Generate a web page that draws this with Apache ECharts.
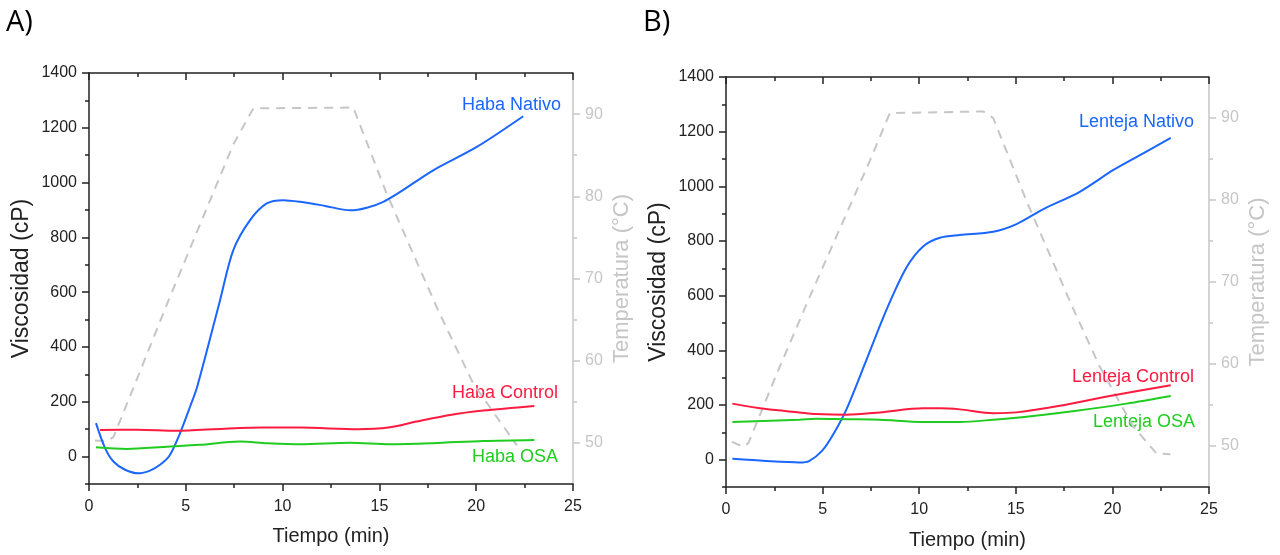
<!DOCTYPE html>
<html><head><meta charset="utf-8">
<script src="https://cdn.jsdelivr.net/npm/echarts@6/dist/echarts.min.js"></script>
<style>html,body{margin:0;padding:0;background:#fff}#c{width:1280px;height:555px}</style>
</head><body><div id="c"></div>
<script>
// ---- Data (time in min, viscosity in cP, temperature in °C) ----
const habaNativo = [[0.36,122],[0.83,31],[1.26,-18],[1.86,-48],[2.55,-61],[3.15,-51],[3.67,-30],[4.18,6],[4.7,85],[5.22,182],[5.6,258],[6.77,571],[7.45,753],[8.32,863],[9.18,924],[10.04,936],[10.9,930],[12.2,915],[13.48,899],[15.2,930],[17.78,1045],[20.03,1130],[22.43,1242]];
const habaControl = [[0.57,97],[2.5,98],[4.5,94],[7.0,102],[9.0,106],[10.9,106],[13.9,100],[15.46,106],[16.93,128],[18.65,152],[20.37,168],[23.0,185]];
const habaOSA = [[0.36,34],[1.95,28],[4.0,36],[5.73,43],[7.8,55],[9.18,49],[10.9,45],[13.48,51],[15.55,45],[17.78,49],[20.37,57],[23.0,61]];
const habaTemp = [[0.31,50.3],[0.9,50.2],[1.26,50.7],[2.38,57.2],[4.1,67.3],[7.45,86.3],[8.49,90.7],[13.65,90.8],[15.38,80.3],[18.04,66.1],[19.85,57.2],[22.1,49.7]];

const lentejaNativo = [[0.33,3],[2.07,-5],[3.8,-10],[4.3,-5],[4.98,33],[5.57,95],[6.24,185],[7.28,367],[8.31,549],[9.34,703],[10.2,780],[11.07,812],[12.1,822],[13.83,834],[15.04,862],[16.41,916],[18.31,980],[20.03,1059],[21.24,1107],[23.02,1177]];
const lentejaControl = [[0.33,205],[2.07,185],[3.8,173],[4.65,167],[6.24,164],[7.97,173],[10.2,188],[11.07,188],[12.1,184],[13.83,170],[15.04,173],[17.28,197],[19.86,233],[23.02,272]];
const lentejaOSA = [[0.33,138],[3.8,146],[4.65,150],[6.24,148],[7.97,146],[10.2,138],[12.1,138],[13.83,146],[15.55,157],[18.14,179],[20.73,205],[23.02,233]];
const lentejaTemp = [[0.31,50.5],[0.9,49.9],[1.17,50.4],[2.5,58.1],[4.26,67.8],[7.45,84.8],[8.48,90.6],[13.31,90.8],[13.83,90.0],[15.55,79.9],[17.96,66.8],[19.34,59.7],[21.07,52.4],[22.28,49.1],[23.0,49.0]];

const viscLabels = [0,200,400,600,800,1000,1200,1400];
const viscMinor = [-100,100,300,500,700,900,1100,1300];
const tempLabels = [50,60,70,80,90];
const tempMinor = [55,65,75,85];

const panelLetters = ['A)','B)'];
const seriesNames = [['Haba Nativo','Haba Control','Haba OSA'],['Lenteja Nativo','Lenteja Control','Lenteja OSA']];

const BLUE='#1a66ff', RED='#ff1a40', GREEN='#1fcc1f', GRAY='#c6c6c6', BLACK='#222';
const FONT='Liberation Sans, Arial, sans-serif';
const plain = v => String(v);

const grids=[{left:89,top:73,width:484,height:411},{left:726,top:77,width:483,height:411}];

const xAxis=[], yAxis=[], series=[];
grids.forEach((g,i)=>{
  xAxis.push({type:'value',gridIndex:i,min:0,max:25,interval:5,position:'bottom',
    name:'Tiempo (min)',nameLocation:'middle',nameGap:i?43:42,
    nameTextStyle:{fontFamily:FONT,fontSize:20,color:BLACK},
    axisLine:{show:true,onZero:false,lineStyle:{color:BLACK,width:1.5}},
    axisTick:{show:true,length:7,lineStyle:{color:BLACK,width:1.5}},
    minorTick:{show:true,splitNumber:2,length:4,lineStyle:{color:BLACK,width:1.5}},
    axisLabel:{fontFamily:FONT,fontSize:16,color:BLACK,margin:15,formatter:plain},
    splitLine:{show:false}});
  xAxis.push({type:'value',gridIndex:i,min:0,max:25,interval:5,position:'top',
    axisLine:{show:true,onZero:false,lineStyle:{color:BLACK,width:1.5}},
    axisTick:{show:true,inside:true,length:7,lineStyle:{color:BLACK,width:1.5}},
    minorTick:{show:true,splitNumber:2,length:4,lineStyle:{color:BLACK,width:1.5}},
    axisLabel:{show:false},splitLine:{show:false}});
  const yb=yAxis.length;
  yAxis.push({type:'value',gridIndex:i,min:-100,max:1400,position:'left',
    name:'Viscosidad (cP)',nameLocation:'middle',nameGap:56,nameRotate:90,
    nameTextStyle:{fontFamily:FONT,fontSize:23,color:BLACK},
    axisLine:{show:true,onZero:false,lineStyle:{color:BLACK,width:1.5}},
    axisTick:{show:true,length:7,customValues:viscLabels,lineStyle:{color:BLACK,width:1.5}},
    axisLabel:{fontFamily:FONT,fontSize:16,color:BLACK,margin:12,customValues:viscLabels,formatter:plain},
    splitLine:{show:false}});
  yAxis.push({type:'value',gridIndex:i,min:-100,max:1400,position:'left',
    axisLine:{show:false,onZero:false},
    axisTick:{show:true,length:4,customValues:viscMinor,lineStyle:{color:BLACK,width:1.5}},
    axisLabel:{show:false},splitLine:{show:false}});
  yAxis.push({type:'value',gridIndex:i,min:45,max:95,position:'right',
    name:'Temperatura (°C)',nameLocation:'middle',nameGap:38,nameRotate:90,
    nameTextStyle:{fontFamily:FONT,fontSize:22,color:GRAY},
    axisLine:{show:true,onZero:false,lineStyle:{color:GRAY,width:1.5}},
    axisTick:{show:true,length:7,customValues:tempLabels,lineStyle:{color:GRAY,width:1.5}},
    axisLabel:{fontFamily:FONT,fontSize:16,color:GRAY,margin:12,customValues:tempLabels,formatter:plain},
    splitLine:{show:false}});
  yAxis.push({type:'value',gridIndex:i,min:45,max:95,position:'right',
    axisLine:{show:false,onZero:false},
    axisTick:{show:true,length:4,customValues:tempMinor,lineStyle:{color:GRAY,width:1.5}},
    axisLabel:{show:false},splitLine:{show:false}});
  const sets = i===0 ? [habaNativo,habaControl,habaOSA,habaTemp] : [lentejaNativo,lentejaControl,lentejaOSA,lentejaTemp];
  const cols=[BLUE,RED,GREEN];
  for(let k=0;k<3;k++){
    series.push({type:'line',name:seriesNames[i][k],xAxisIndex:i*2,yAxisIndex:yb,data:sets[k],
      smooth:0.3,showSymbol:false,lineStyle:{color:cols[k],width:2},z:3});
  }
  series.push({type:'line',name:'Temperatura',xAxisIndex:i*2,yAxisIndex:yb+2,data:sets[3],
    smooth:false,showSymbol:false,lineStyle:{color:GRAY,width:2,type:[9,7]},z:2});
});

const txt=(x,y,s,c)=>({type:'text',x:x,y:y,style:{text:s,fill:c,font:'18px '+FONT,textAlign:'right',textVerticalAlign:'middle'}});
const graphic=[
  {type:'text',x:6,y:23,style:{text:panelLetters[0],fill:'#000',font:'29px Open Sans',textVerticalAlign:'middle'}},
  {type:'text',x:643,y:23,style:{text:panelLetters[1],fill:'#000',font:'29px Open Sans',textVerticalAlign:'middle'}},
  txt(561,105,seriesNames[0][0],BLUE),
  txt(558,393,seriesNames[0][1],RED),
  txt(558,457,seriesNames[0][2],GREEN),
  txt(1194,122,seriesNames[1][0],BLUE),
  txt(1194,377,seriesNames[1][1],RED),
  txt(1195,422,seriesNames[1][2],GREEN)
];

const chart=echarts.init(document.getElementById('c'),null,{renderer:'canvas'});
chart.setOption({animation:false,backgroundColor:'#fff',grid:grids,xAxis,yAxis,series,graphic});
</script></body></html>
